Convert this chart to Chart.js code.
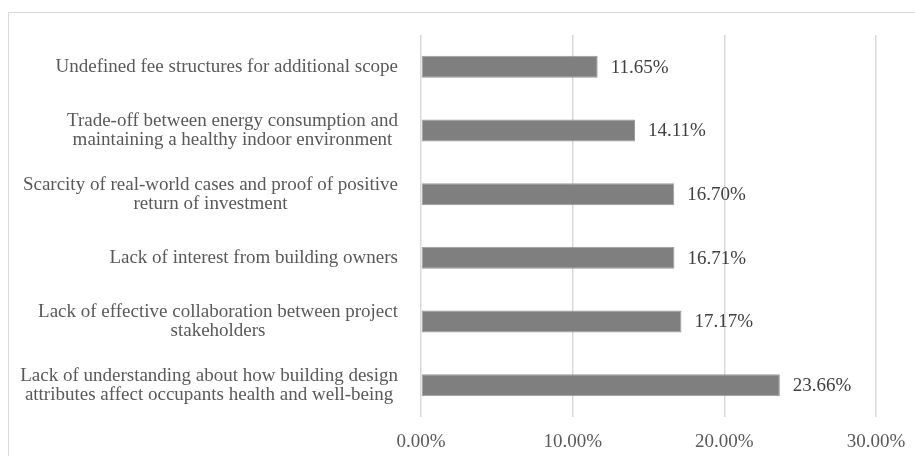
<!DOCTYPE html>
<html>
<head>
<meta charset="utf-8">
<script src="https://cdn.jsdelivr.net/npm/chart.js@4.4.1/dist/chart.umd.min.js"></script>
<style>
  html, body { margin: 0; padding: 0; background: #fff; }
  #wrap { position: relative; width: 915px; height: 456px; }
</style>
</head>
<body>
<div id="wrap"><canvas id="barriers"></canvas></div>
<script>
// ─── Data ───

const categories = [
  ['Undefined fee structures for additional scope'],
  ['Trade-off between energy consumption and', 'maintaining a healthy indoor environment'],
  ['Scarcity of real-world cases and proof of positive', 'return of investment'],
  ['Lack of interest from building owners'],
  ['Lack of effective collaboration between project', 'stakeholders'],
  ['Lack of understanding about how building design', 'attributes affect occupants health and well-being'],
];
const shares = [11.65, 14.11, 16.70, 16.71, 17.17, 23.66];
const xTicks = [0, 10, 20, 30];

const SERIF = '"Liberation Serif", "Times New Roman", serif';
const BAR_GRAY = '#7f7f7f';
const TEXT_GRAY = '#595959';

// ─── Plugins ───

// light frame around the whole figure
const framePlugin = {
  id: 'frame',
  beforeDraw(chart) {
    const { ctx } = chart;
    ctx.save();
    ctx.strokeStyle = '#d9d9d9';
    ctx.lineWidth = 1;
    ctx.strokeRect(8.5, 12.5, 2000, 2000);
    ctx.restore();
  },
};

// category labels: block right-aligned to the axis, lines centred in the block
const categoryLabelPlugin = {
  id: 'categoryLabels',
  afterDraw(chart) {
    const { ctx } = chart;
    const yScale = chart.scales.y;
    const right = chart.chartArea.left - 23;
    const lineH = 19;
    ctx.save();
    ctx.font = '19px ' + SERIF;
    ctx.fillStyle = TEXT_GRAY;
    ctx.textAlign = 'center';
    ctx.textBaseline = 'middle';
    categories.forEach((lines, i) => {
      const cy = yScale.getPixelForValue(i);
      const widest = Math.max(...lines.map(l => ctx.measureText(l).width));
      const cx = right - widest / 2;
      const y0 = cy - (lines.length - 1) * lineH / 2;
      lines.forEach((l, j) => ctx.fillText(l, cx, y0 + j * lineH));
    });
    ctx.restore();
  },
};

// value labels to the right of each bar
const valueLabelPlugin = {
  id: 'valueLabels',
  afterDatasetsDraw(chart) {
    const { ctx } = chart;
    const meta = chart.getDatasetMeta(0);
    ctx.save();
    ctx.font = '19px ' + SERIF;
    ctx.fillStyle = '#404040';
    ctx.textAlign = 'left';
    ctx.textBaseline = 'middle';
    meta.data.forEach((bar, i) => {
      ctx.fillText(shares[i].toFixed(2) + '%', bar.x + 13, bar.y + 1);
    });
    ctx.restore();
  },
};

// ─── Chart ───

new Chart(document.getElementById('barriers'), {
  type: 'bar',
  data: {
    labels: categories,
    datasets: [{
      data: shares,
      backgroundColor: BAR_GRAY,
      borderColor: '#9a9a9a',
      borderWidth: 1,
      borderSkipped: false,
      barPercentage: 0.345,
      categoryPercentage: 1,
    }],
  },
  options: {
    indexAxis: 'y',
    responsive: true,
    maintainAspectRatio: false,
    animation: false,
    layout: { padding: { top: 35, right: 39, bottom: 0, left: 0 } },
    plugins: {
      legend: { display: false },
      tooltip: { enabled: false },
    },
    scales: {
      x: {
        min: 0,
        max: 30,
        afterBuildTicks: scale => { scale.ticks = xTicks.map(v => ({ value: v })); },
        afterFit: scale => {
          scale.height = 39;
          // the end labels may overhang; the fixed layout padding covers them
          scale.paddingLeft = 0;
          scale.paddingRight = 0;
        },
        grid: { color: '#d9d9d9', lineWidth: 1.5, drawTicks: false },
        border: { display: false },
        ticks: {
          padding: 14,
          color: TEXT_GRAY,
          font: { family: SERIF, size: 19 },
          maxRotation: 0,
          callback: v => v.toFixed(2) + '%',
        },
      },
      y: {
        afterFit: scale => { scale.width = 421; },
        grid: { display: false },
        border: { display: false },
        ticks: { display: false },
      },
    },
  },
  plugins: [framePlugin, categoryLabelPlugin, valueLabelPlugin],
});
</script>
</body>
</html>
